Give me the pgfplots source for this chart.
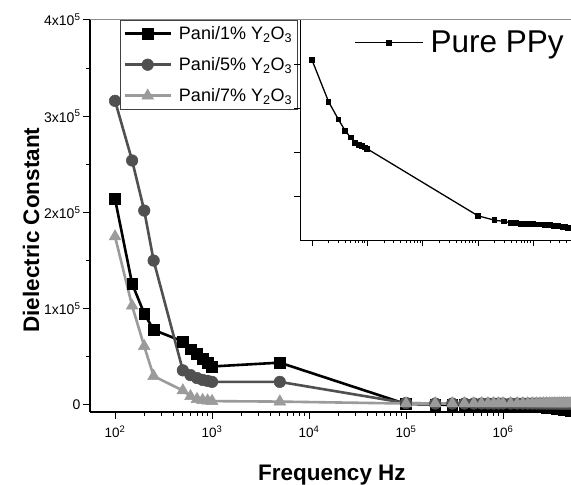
\documentclass[border=0pt]{standalone}
\usepackage{pgfplots}
\pgfplotsset{compat=1.18}
\usepackage{pgfplotstable}
\usepackage{fontspec}
\setmainfont{Liberation Sans}
\definecolor{cfive}{RGB}{80,80,80}
\definecolor{cseven}{RGB}{155,155,155}

\pgfplotstableread{
f p1 p5 p7
100 214000 316000 175000
150 126000 254000 103000
200 95000 202000 61000
250 78000 150000 30000
500 66000 36000 15000
600 58000 31000 9000
700 53000 28000 6000
800 48000 26000 5000
900 44000 25000 4500
1000 40000 24000 4000
5000 44000 24000 3500
100000 1000 2000 1500
200000 500 1500 1500
300000 0 1500 1500
400000 0 1500 1500
500000 0 1500 1500
600000 0 1500 1500
700000 0 1500 1500
800000 0 1500 1500
900000 0 1500 1500
1000000 0 1500 1500
1200000 -200 1500 1500
1400000 -400 1500 1500
1600000 -600 1500 1500
1800000 -800 1500 1500
2000000 -1000 1500 1500
2200000 -1400 1500 1500
2400000 -1800 1500 1500
2600000 -2200 1500 1500
2800000 -2600 1500 1500
3000000 -3000 1500 1500
3200000 -3300 1500 1500
3400000 -3600 1500 1500
3600000 -4000 1500 1500
3800000 -4300 1500 1500
4000000 -4600 1500 1500
4200000 -4800 1500 1500
4400000 -5100 1500 1500
4600000 -5300 1500 1500
4800000 -5500 1500 1500
5000000 -5700 1500 1500
}\maintable

\pgfplotstableread{
f v
100 4.09
200 3.14
300 2.74
400 2.48
500 2.33
600 2.20
700 2.16
800 2.13
900 2.10
1000 2.07
100000 0.55
200000 0.45
300000 0.42
400000 0.39
500000 0.38
600000 0.37
700000 0.37
800000 0.36
900000 0.36
1000000 0.36
1200000 0.355
1400000 0.35
1600000 0.345
1800000 0.34
2000000 0.335
2200000 0.33
2400000 0.325
2600000 0.32
2800000 0.315
3000000 0.31
3200000 0.305
3400000 0.30
3600000 0.295
3800000 0.29
4000000 0.285
4200000 0.28
4400000 0.277
4600000 0.275
4800000 0.272
5000000 0.27
}\ppytable

\begin{document}
\begin{tikzpicture}
\useasboundingbox[fill=white] (0pt,0pt) rectangle (571pt,485pt);
\begin{axis}[
  at={(90pt,73pt)}, anchor=south west,
  scale only axis, width=510pt, height=392pt,
  xmode=log, xmin=55.2, xmax=1e7,
  ymin=-7300, ymax=400000,
  axis x line*=bottom, axis y line*=left,
  axis line style={line width=1.6pt, black},
  ytick={0,100000,200000,300000,400000},
  yticklabels={0, 1x10\textsuperscript{5}, 2x10\textsuperscript{5}, 3x10\textsuperscript{5}, 4x10\textsuperscript{5}},
  minor y tick num=1,
  xtick={100,1000,10000,100000,1000000},
  xticklabels={10\textsuperscript{2}, 10\textsuperscript{3}, 10\textsuperscript{4}, 10\textsuperscript{5}, 10\textsuperscript{6}},
  scaled y ticks=false,
  tick align=outside,
  major tick length=7pt, minor tick length=4pt,
  tick style={line width=1pt, black},
  yticklabel style={font=\fontsize{14}{16}\selectfont, xshift=1pt},
  xticklabel style={font=\fontsize{13.5}{16}\selectfont, yshift=-3pt},
  xlabel={Frequency Hz}, ylabel={Dielectric Constant},
  label style={font=\fontsize{22.5}{26}\selectfont\bfseries},
  xlabel style={at={(axis description cs:0.4745,-0.1607)}, anchor=center},
  ylabel style={at={(axis description cs:-0.1157,0.464)}, anchor=center},
  legend style={at={(axis description cs:0.0588,1)}, anchor=north west,
    draw=black!75, line width=0.8pt, fill=white,
    font=\fontsize{18}{20}\selectfont, row sep=12.5pt, column sep=5pt,
    inner xsep=3pt, inner ysep=4pt},
  legend cell align=left,
  legend image code/.code={\draw[#1, mark repeat=2, mark phase=2] plot coordinates {(0pt,0pt) (23pt,0pt) (46pt,0pt)};},
]
\addplot[black, line width=2.6pt, mark=square*, mark size=5.3pt, mark options={solid, fill=black, line width=0.5pt}] table[x=f, y=p1] {\maintable};
\addlegendentry{Pani/1\% Y\textsubscript{2}O\textsubscript{3}}
\addplot[cfive, line width=2.6pt, mark=*, mark size=5.8pt, mark options={solid, fill=cfive, line width=0.5pt}] table[x=f, y=p5] {\maintable};
\addlegendentry{Pani/5\% Y\textsubscript{2}O\textsubscript{3}}
\addplot[cseven, line width=2.6pt, mark=triangle*, mark size=6.8pt, mark options={solid, fill=cseven, line width=0.5pt}] table[x=f, y=p7] {\maintable};
\addlegendentry{Pani/7\% Y\textsubscript{2}O\textsubscript{3}}
\end{axis}
\draw[black!45, line width=1pt] (90pt,465pt) -- (571pt,465pt);
\begin{axis}[
  at={(300pt,245pt)}, anchor=south west,
  scale only axis, width=300pt, height=220pt,
  xmode=log, xmin=60.7, xmax=1.61e7,
  ymin=0, ymax=5,
  axis x line*=bottom, axis y line*=left,
  axis line style={line width=0.9pt, black},
  ytick={1,2,3,4}, yticklabels={},
  xtick={100,1000,10000,100000,1000000,10000000}, xticklabels={},
  tick align=outside,
  major tick length=6pt, minor tick length=3pt,
  tick style={line width=0.8pt, black},
  legend style={at={(axis description cs:0.17,0.897)}, anchor=west,
    draw=none, fill=none, font=\fontsize{31.5}{34}\selectfont, column sep=5pt},
  legend image code/.code={\draw[#1, mark repeat=2, mark phase=2] plot coordinates {(0pt,0pt) (34pt,0pt) (68pt,0pt)};},
]
\addplot[black, line width=1.3pt, mark=square*, mark size=2.2pt, mark options={solid, fill=black}] table[x=f, y=v] {\ppytable};
\addlegendentry{Pure PPy}
\end{axis}
\end{tikzpicture}
\end{document}
